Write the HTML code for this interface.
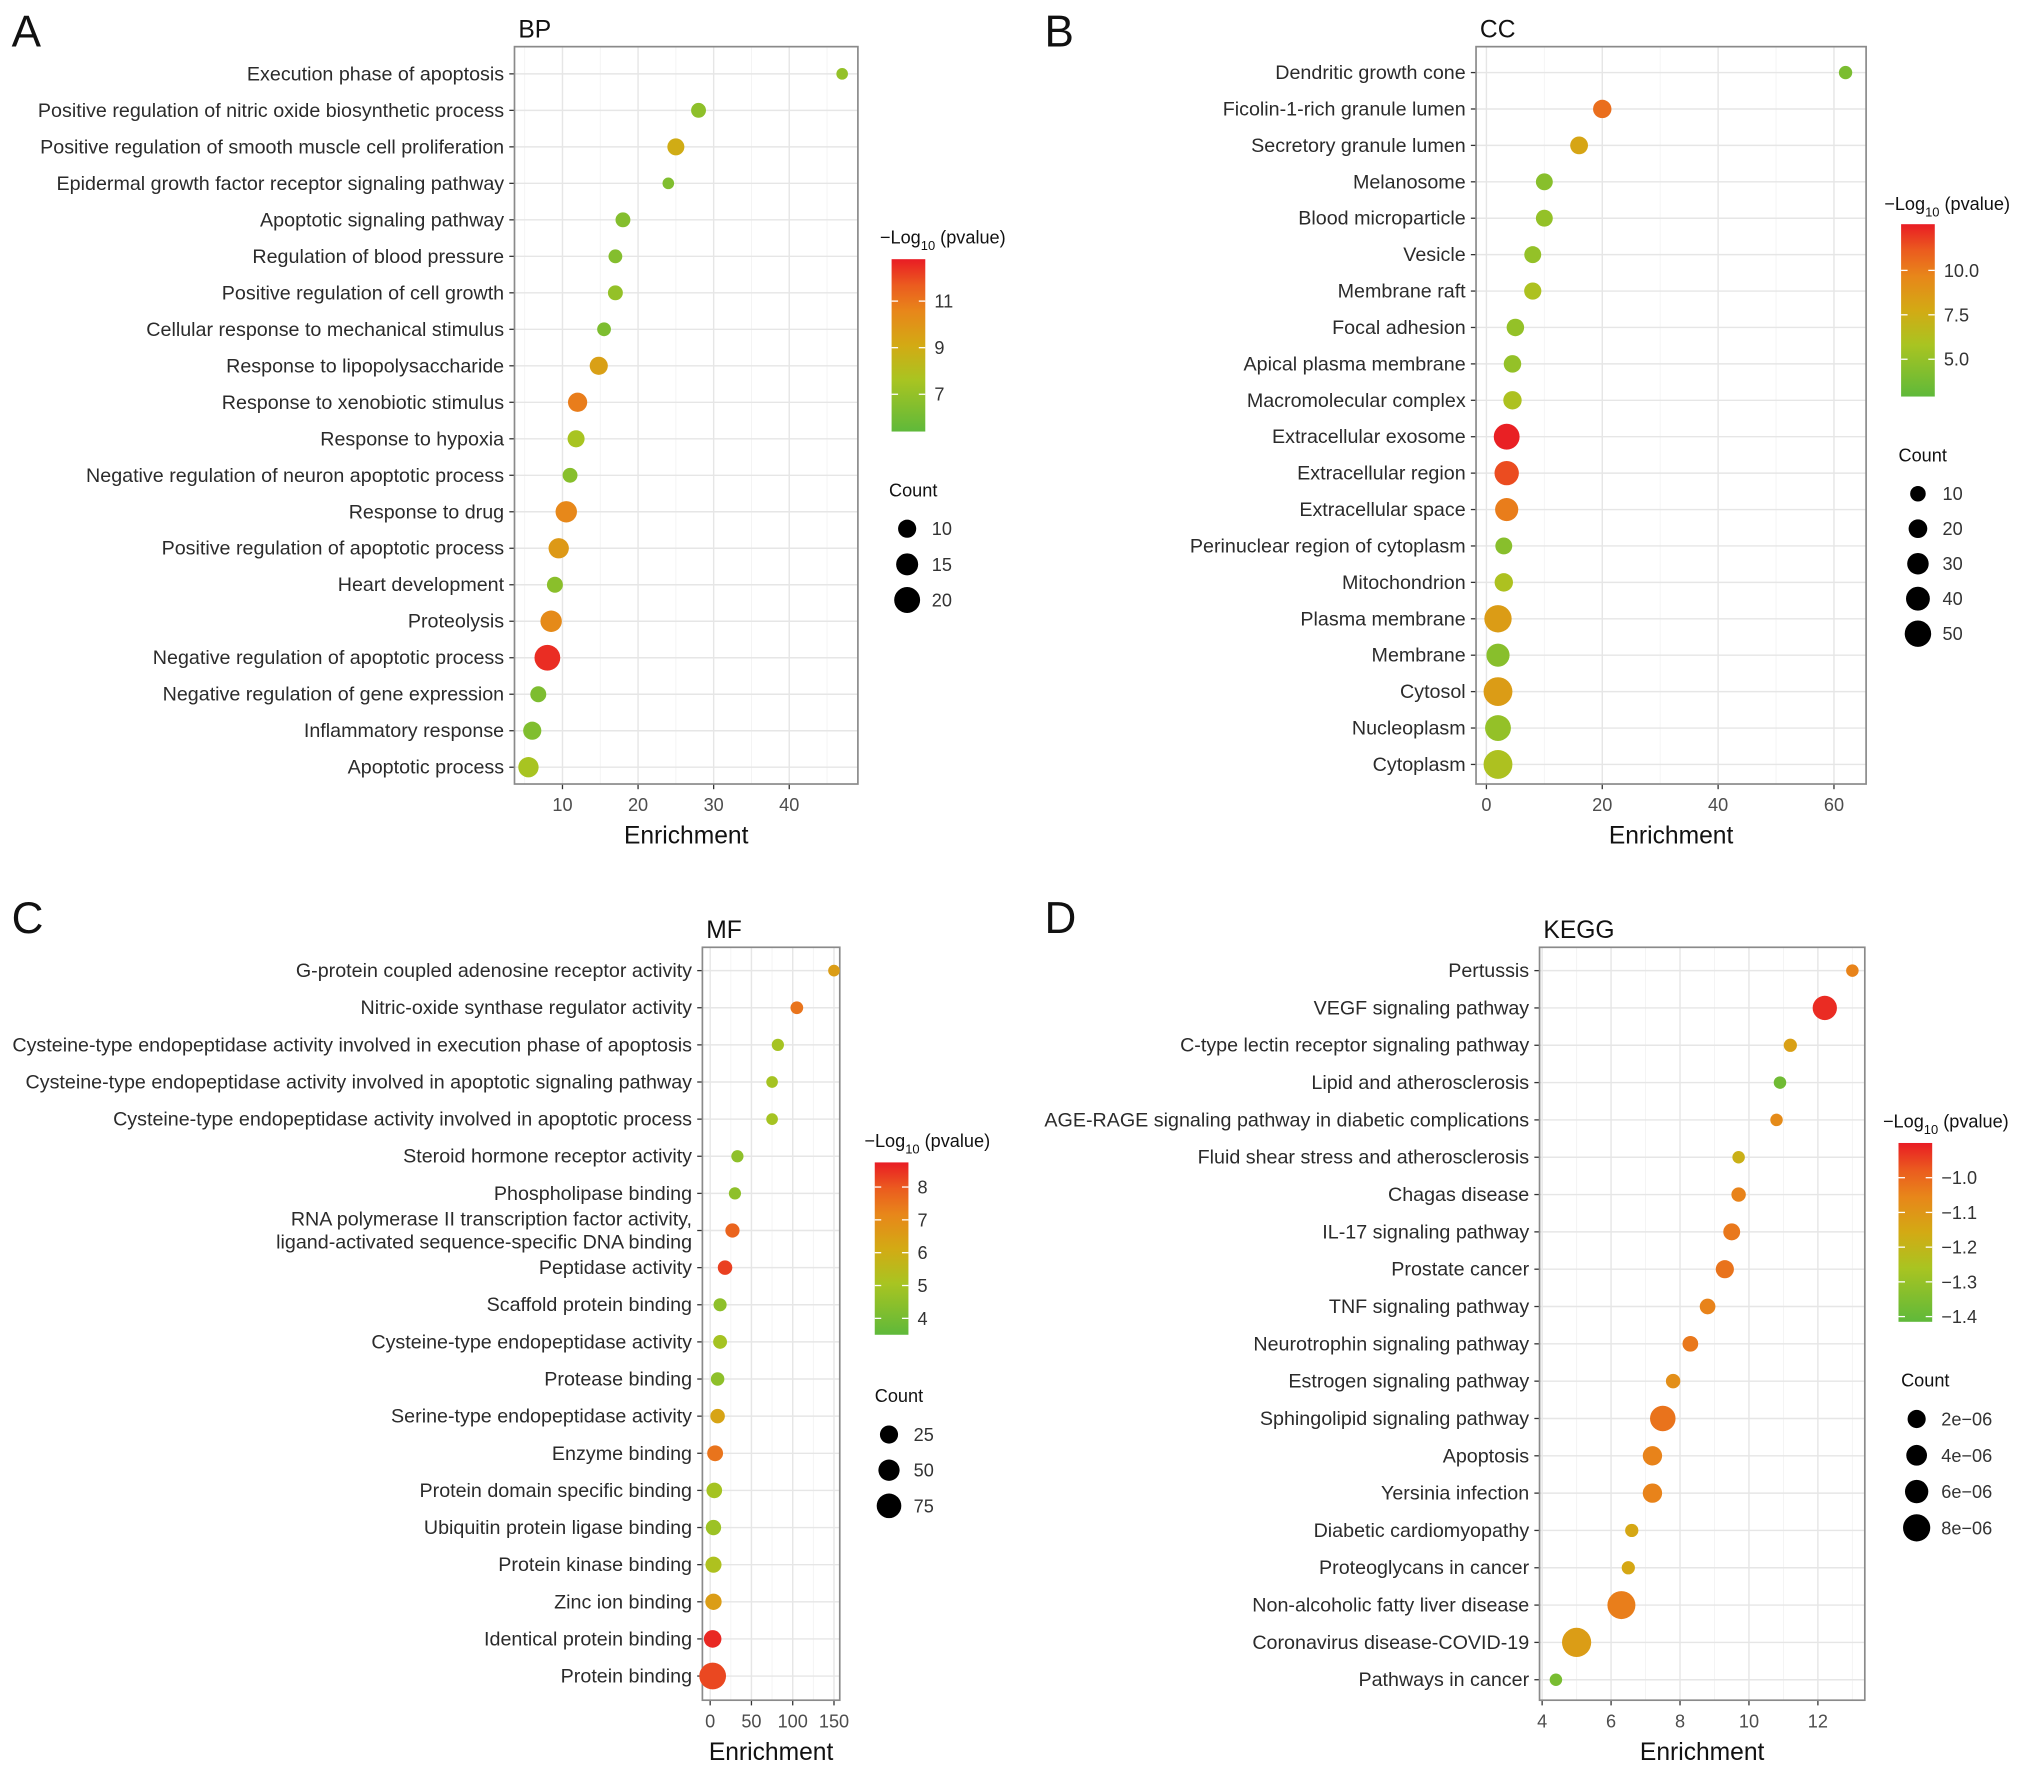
<!DOCTYPE html>
<html><head><meta charset="utf-8"><style>
html,body{margin:0;padding:0;background:#fff;}
svg{display:block;font-family:"Liberation Sans",Arial,sans-serif;}
</style></head><body>
<svg id="fig" width="2032" height="1772" viewBox="0 0 1568 1367.4" xmlns="http://www.w3.org/2000/svg">
<rect x="0" y="0" width="1568" height="1368" fill="#fff"/>
<defs>
<linearGradient id="cg" x1="0" y1="1" x2="0" y2="0">
<stop offset="0" stop-color="#5fb93a"/><stop offset="0.3" stop-color="#a9c421"/><stop offset="0.5" stop-color="#d3aa14"/><stop offset="0.7" stop-color="#e8861a"/><stop offset="0.85" stop-color="#eb5b1f"/><stop offset="1" stop-color="#e91c24"/>
</linearGradient>
</defs>
</svg>
<script>
// ---- Panel A (BP) data ----
const bpTerms=["Execution phase of apoptosis","Positive regulation of nitric oxide biosynthetic process","Positive regulation of smooth muscle cell proliferation","Epidermal growth factor receptor signaling pathway","Apoptotic signaling pathway","Regulation of blood pressure","Positive regulation of cell growth","Cellular response to mechanical stimulus","Response to lipopolysaccharide","Response to xenobiotic stimulus","Response to hypoxia","Negative regulation of neuron apoptotic process","Response to drug","Positive regulation of apoptotic process","Heart development","Proteolysis","Negative regulation of apoptotic process","Negative regulation of gene expression","Inflammatory response","Apoptotic process"];
const bpEnrich=[47,28,25,24,18,17,17,15.5,14.8,12,11.8,11,10.5,9.5,9,8.5,8,6.8,6,5.5];
const bpLogP=[7,6.8,9,6.4,6.5,6.5,7,6.3,9.5,10.8,7.6,6.6,10.5,9.8,6.7,10.4,12.5,6.3,6.4,7.6];
const bpCount=[4,7,9,4,7,6,7,6,10,11,9,7,13,12,8,13,17,8,10,12];
const bpTicks=[10,20,30,40];
const bpColTicks=[7,9,11];
const bpSizeBreaks=[10,15,20];
// ---- Panel B (CC) data ----
const ccTerms=["Dendritic growth cone","Ficolin-1-rich granule lumen","Secretory granule lumen","Melanosome","Blood microparticle","Vesicle","Membrane raft","Focal adhesion","Apical plasma membrane","Macromolecular complex","Extracellular exosome","Extracellular region","Extracellular space","Perinuclear region of cytoplasm","Mitochondrion","Plasma membrane","Membrane","Cytosol","Nucleoplasm","Cytoplasm"];
const ccEnrich=[62,20,16,10,10,8,8,5,4.5,4.5,3.5,3.5,3.5,3,3,2,2,2,2,2];
const ccLogP=[4,10.5,8,4.5,5,5,6,5,5,6,12.5,11.5,10,4.5,6,8.5,4.5,8.5,5,6];
const ccCount=[3,20,18,15,15,15,16,17,17,20,45,40,36,15,20,50,36,55,45,55];
const ccTicks=[0,20,40,60];
const ccColTicks=[5,7.5,10];
const ccColTickLabels=["5.0","7.5","10.0"];
const ccSizeBreaks=[10,20,30,40,50];
// ---- Panel C (MF) data ----
const mfTerms=["G-protein coupled adenosine receptor activity","Nitric-oxide synthase regulator activity","Cysteine-type endopeptidase activity involved in execution phase of apoptosis","Cysteine-type endopeptidase activity involved in apoptotic signaling pathway","Cysteine-type endopeptidase activity involved in apoptotic process","Steroid hormone receptor activity","Phospholipase binding","RNA polymerase II transcription factor activity,\nligand-activated sequence-specific DNA binding","Peptidase activity","Scaffold protein binding","Cysteine-type endopeptidase activity","Protease binding","Serine-type endopeptidase activity","Enzyme binding","Protein domain specific binding","Ubiquitin protein ligase binding","Protein kinase binding","Zinc ion binding","Identical protein binding","Protein binding"];
const mfEnrich=[150,105,82,75,75,33,30,27,18,12,12,9,9,6,5,4,4,4,3,3];
const mfLogP=[6.5,7.5,5,5,5,4.5,4.5,7.8,8.3,4.5,5,4.5,6.3,7.5,5,4.8,5.2,6.5,8.6,8.2];
const mfCount=[2,4,3,2,2,3,3,8,9,5,7,6,9,14,13,12,15,16,22,95];
const mfTicks=[0,50,100,150];
const mfColTicks=[4,5,6,7,8];
const mfSizeBreaks=[25,50,75];
// ---- Panel D (KEGG) data ----
const kgTerms=["Pertussis","VEGF signaling pathway","C-type lectin receptor signaling pathway","Lipid and atherosclerosis","AGE-RAGE signaling pathway in diabetic complications","Fluid shear stress and atherosclerosis","Chagas disease","IL-17 signaling pathway","Prostate cancer","TNF signaling pathway","Neurotrophin signaling pathway","Estrogen signaling pathway","Sphingolipid signaling pathway","Apoptosis","Yersinia infection","Diabetic cardiomyopathy","Proteoglycans in cancer","Non-alcoholic fatty liver disease","Coronavirus disease-COVID-19","Pathways in cancer"];
const kgEnrich=[13,12.2,11.2,10.9,10.8,9.7,9.7,9.5,9.3,8.8,8.3,7.8,7.5,7.2,7.2,6.6,6.5,6.3,5,4.4];
const kgLogP=[-1.05,-0.92,-1.13,-1.38,-1.07,-1.18,-1.05,-1.03,-1.02,-1.05,-1.03,-1.08,-1.02,-1.05,-1.05,-1.15,-1.15,-1.04,-1.12,-1.36];
const kgCount=[1.7,6.5,2,1.7,1.7,1.7,2.5,3.5,4,3,3,2.5,7,4.5,4.5,2,2,8,8.5,1.7];
const kgTicks=[4,6,8,10,12];
const kgColTicks=[-1.4,-1.3,-1.2,-1.1,-1.0];
const kgColTickLabels=["\u22121.4","\u22121.3","\u22121.2","\u22121.1","\u22121.0"];
const kgSizeBreaks=[2,4,6,8];
const kgSizeLabels=["2e\u221206","4e\u221206","6e\u221206","8e\u221206"];

const svg=document.getElementById('fig');
const NS=svg.namespaceURI;
function mk(tag,attrs,parent){const e=document.createElementNS(NS,tag);for(const k in attrs)e.setAttribute(k,attrs[k]);(parent||svg).appendChild(e);return e;}
const stops=[[0,[95,185,58]],[0.3,[169,196,33]],[0.5,[211,170,20]],[0.7,[232,134,26]],[0.85,[235,91,31]],[1,[233,28,36]]];
function colorAt(t){t=Math.max(0,Math.min(1,t));for(let i=1;i<stops.length;i++){if(t<=stops[i][0]){const a=stops[i-1],b=stops[i];const f=(t-a[0])/(b[0]-a[0]);const c=a[1].map((v,j)=>Math.round(v+(b[1][j]-v)*f));return 'rgb('+c.join(',')+')';}}return 'rgb(233,28,36)';}

function panel(p){
  const g=mk('g',{});
  
  
  const xs=v=>p.x0px+(v-p.x0v)*p.pxPer;
  const ys=i=>p.yFirst+i*p.yStep;
  const lt=mk('text',{x:p.letterX,y:p.letterY,'font-size':34,fill:'#111'},g);lt.textContent=p.letter;
  
  
  const tt=mk('text',{x:p.box[0]+3,y:p.box[1]-7,'font-size':19,fill:'#111'},g);tt.textContent=p.title;
  
  
  const [bx,by,bx2,by2]=p.box;
  for(let i=0;i<p.ticks.length;i++){
    const v=p.ticks[i];
    const m=v+(p.ticks[1]-p.ticks[0])/2;
    if(xs(m)>bx&&xs(m)<bx2){const ml=mk('line',{x1:xs(m),x2:xs(m),y1:by,y2:by2,stroke:'#f3f3f3','stroke-width':0.7},g);}
    const pm=v-(p.ticks[1]-p.ticks[0])/2;
    if(i==0&&xs(pm)>bx){const ml=mk('line',{x1:xs(pm),x2:xs(pm),y1:by,y2:by2,stroke:'#f3f3f3','stroke-width':0.7},g);}
    const gl=mk('line',{x1:xs(v),x2:xs(v),y1:by,y2:by2,stroke:'#e6e6e6','stroke-width':1.1},g);
    
    
    const tk=mk('line',{x1:xs(v),x2:xs(v),y1:by2,y2:by2+4,stroke:'#333','stroke-width':1},g);
    
    
    const tl=mk('text',{x:xs(v),y:by2+21,'font-size':14,fill:'#4d4d4d','text-anchor':'middle'},g);tl.textContent=v;
    
    
  }
  for(let i=0;i<p.terms.length;i++){
    const y=ys(i);
    const hl=mk('line',{x1:bx,x2:bx2,y1:y,y2:y,stroke:'#e6e6e6','stroke-width':1.1},g);
    
    
    const tk=mk('line',{x1:bx-4,x2:bx,y1:y,y2:y,stroke:'#333','stroke-width':1},g);
    
    
    const lines=p.terms[i].split('\n');
    const t=mk('text',{x:bx-8,y:y+5-(lines.length-1)*9,'font-size':15.2,fill:'#2b2b2b','text-anchor':'end'},g);
    
    
    lines.forEach((ln,k)=>{const sp=mk('tspan',{x:bx-8,dy:k?18:0},t);sp.textContent=ln;});
  }
  const bor=mk('rect',{x:bx,y:by,width:bx2-bx,height:by2-by,fill:'none',stroke:'#8a8a8a','stroke-width':1.3},g);
  
  
  for(let i=p.terms.length-1;i>=0;i--){
    const t=(p.logp[i]-p.cMin)/(p.cMax-p.cMin);
    const c=mk('circle',{cx:xs(p.enrich[i]),cy:ys(i),r:p.rad(p.count[i]),fill:colorAt(t)},g);
    
    
  }
  const xt=mk('text',{x:(bx+bx2)/2,y:by2+46,'font-size':19,fill:'#111','text-anchor':'middle'},g);xt.textContent='Enrichment';
  
  
  const L=p.leg;
  const lt2=mk('text',{x:L.tx,y:L.ty,'font-size':14,fill:'#111'},g);
  
  
  const a=mk('tspan',{},lt2);a.textContent='\u2212Log';
  const b=mk('tspan',{dy:5,'font-size':10},lt2);b.textContent='10';
  const c2=mk('tspan',{dy:-5},lt2);c2.textContent=' (pvalue)';
  const cb=mk('rect',{x:L.bx,y:L.by,width:26,height:L.bh,fill:'url(#cg)'},g);
  
  
  const cy=v=>L.by+L.bh-(v-p.cMin)/(p.cMax-p.cMin)*L.bh;
  p.colTicks.forEach((v,k)=>{
    const y=cy(v);
    const tl=mk('line',{x1:L.bx,x2:L.bx+5,y1:y,y2:y,stroke:'#fff','stroke-width':1},g);
    
    
    const tr=mk('line',{x1:L.bx+21,x2:L.bx+26,y1:y,y2:y,stroke:'#fff','stroke-width':1},g);
    
    
    const tx=mk('text',{x:L.bx+33,y:y+5,'font-size':14,fill:'#333'},g);tx.textContent=p.colLabels?p.colLabels[k]:v;
    
    
  });
  const st=mk('text',{x:L.sx,y:L.sy,'font-size':14,fill:'#111'},g);st.textContent='Count';
  
  
  p.sizeBreaks.forEach((v,k)=>{
    const y=L.sy+25+k*L.sStep;
    const c=mk('circle',{cx:L.cx,cy:y,r:L.sr[k],fill:'#000'},g);
    
    
    const tx=mk('text',{x:L.cx+19,y:y+5,'font-size':14,fill:'#333'},g);tx.textContent=p.sizeLabels?p.sizeLabels[k]:v;
    
    
  });
}

panel({key:'bp',letter:'A',letterX:9,letterY:36,title:'BP',box:[397,36,662,605],terms:bpTerms,enrich:bpEnrich,logp:bpLogP,count:bpCount,
 ticks:bpTicks,x0v:0,x0px:375.7,pxPer:5.833,yFirst:57,yStep:28.16,cMin:5.4,cMax:12.8,colTicks:bpColTicks,sizeBreaks:bpSizeBreaks,
 rad:c=>2.8+0.42*c,leg:{tx:679,ty:188,bx:688,by:200,bh:133,sx:686,sy:383,cx:700,sStep:27.5,sr:[7,8.5,10]}});
panel({key:'cc',letter:'B',letterX:806,letterY:36,title:'CC',box:[1139,36,1440,605],terms:ccTerms,enrich:ccEnrich,logp:ccLogP,count:ccCount,
 ticks:ccTicks,x0v:0,x0px:1147,pxPer:4.47,yFirst:56,yStep:28.1,cMin:2.9,cMax:12.6,colTicks:ccColTicks,colLabels:ccColTickLabels,sizeBreaks:ccSizeBreaks,
 rad:c=>4.8+0.115*c,leg:{tx:1454,ty:162,bx:1467,by:173,bh:133,sx:1465,sy:356,cx:1480,sStep:27,sr:[6,7.2,8.3,9.2,10.2]}});
panel({key:'mf',letter:'C',letterX:9,letterY:720,title:'MF',box:[542,731,648,1312],terms:mfTerms,enrich:mfEnrich,logp:mfLogP,count:mfCount,
 ticks:mfTicks,x0v:0,x0px:548,pxPer:0.637,yFirst:749,yStep:28.65,cMin:3.5,cMax:8.75,colTicks:mfColTicks,sizeBreaks:mfSizeBreaks,
 rad:c=>3.5+0.7*Math.sqrt(c),leg:{tx:667,ty:885,bx:675,by:897,bh:133,sx:675,sy:1082,cx:686,sStep:27.5,sr:[7,8.2,9.5]}});
panel({key:'kegg',letter:'D',letterX:806,letterY:720,title:'KEGG',box:[1188,731,1439,1312],terms:kgTerms,enrich:kgEnrich,logp:kgLogP,count:kgCount,
 ticks:kgTicks,x0v:4,x0px:1190,pxPer:26.6,yFirst:749,yStep:28.8,cMin:-1.415,cMax:-0.9,colTicks:kgColTicks,colLabels:kgColTickLabels,sizeBreaks:kgSizeBreaks,sizeLabels:kgSizeLabels,
 rad:c=>3.2+0.95*c,leg:{tx:1453,ty:870,bx:1465,by:882,bh:138,sx:1467,sy:1070,cx:1479,sStep:28,sr:[7,8,9,10.5]}});
</script>
</body></html>
